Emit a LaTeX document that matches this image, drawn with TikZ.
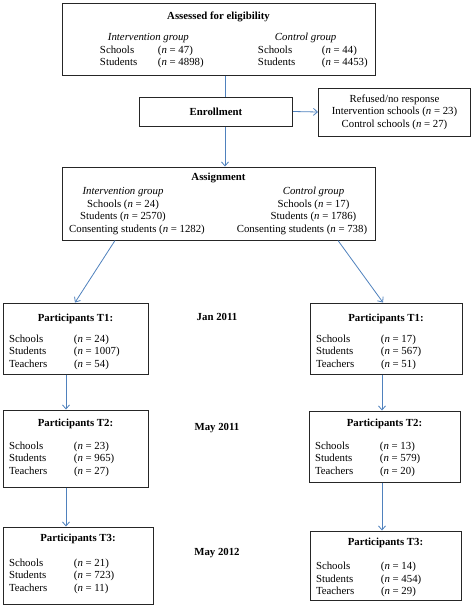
\documentclass[tikz,border=0pt]{standalone}
\usepackage{fontspec}
\setmainfont{Liberation Serif}
\usepackage{array}
\usetikzlibrary{arrows.meta}
\definecolor{arrowblue}{HTML}{4F81BD}

\begin{document}
\begin{tikzpicture}[x=1pt, y=-1pt,
    font=\fontsize{10.8}{12.5}\selectfont,
    box/.style={draw=black!85, line width=1pt, inner sep=0pt},
    link/.style={draw=arrowblue, line width=0.8pt},
    arr/.style={link, -{Straight Barb[length=4pt,width=7pt]}}]
      \useasboundingbox (0,0) rectangle (472,606);

      \node[box, minimum width=313pt, minimum height=72pt] (assess) at (218.5,39) {%
        \begin{tabular}{@{\hspace{38pt}}p{58pt}@{}p{100pt}@{}p{64pt}@{}p{53pt}@{}}
          \multicolumn{4}{c}{\textbf{Assessed for eligibility}}\\[9pt]
          \multicolumn{2}{@{\hspace{46pt}}l}{\textit{Intervention group}} & \multicolumn{2}{@{\hspace{17pt}}l@{}}{\textit{Control group}}\\
          Schools & (\textit{n} = 47) & Schools & (\textit{n} = 44)\\
          Students & (\textit{n} = 4898) & Students & (\textit{n} = 4453)\\[-2pt]
        \end{tabular}};

      \node[box, minimum width=153pt, minimum height=29pt] (enroll) at (216,111.5) {\textbf{Enrollment}};
      \node[box, minimum width=152pt, minimum height=48pt, align=center] (refused) at (394.5,112)
        {Refused/no response\\Intervention schools (\textit{n} = 23)\\Control schools (\textit{n} = 27)};

      \node[box, minimum width=313pt, minimum height=73pt] (assign) at (218.5,203.5) {%
        \begin{tabular}{@{}w{c}{122pt}@{\hspace{68pt}}w{c}{123pt}@{}}
          \multicolumn{2}{c}{\textbf{Assignment}}\\[1.5pt]
          \textit{Intervention group} & \textit{Control group}\\
          Schools (\textit{n} = 24) & Schools (\textit{n} = 17)\\
          Students (\textit{n} = 2570) & Students (\textit{n} = 1786)\\
          \hspace{28pt}Consenting students (\textit{n} = 1282) & Consenting students (\textit{n} = 738)\hspace{23pt}\mbox{}\\[-1pt]
        \end{tabular}};

      \node[box, minimum width=145pt, minimum height=71pt] (p1l) at (75.5,338.5) {%
        \begin{tabular}{@{\hspace{6pt}}p{65pt}@{}p{74pt}@{}}
          \multicolumn{2}{c}{\textbf{Participants T1:}}\\[8pt]
          Schools & (\textit{n} = 24)\\
          Students & (\textit{n} = 1007)\\
          Teachers & (\textit{n} = 54)\\[-7pt]
        \end{tabular}};
      \node[box, minimum width=152pt, minimum height=71pt] (p1r) at (386,338.5) {%
        \begin{tabular}{@{\hspace{6pt}}p{65pt}@{}p{81pt}@{}}
          \multicolumn{2}{c}{\textbf{Participants T1:}}\\[8pt]
          Schools & (\textit{n} = 17)\\
          Students & (\textit{n} = 567)\\
          Teachers & (\textit{n} = 51)\\[-7pt]
        \end{tabular}};

      \node[box, minimum width=145pt, minimum height=77pt] (p2l) at (75.5,448.5) {%
        \begin{tabular}{@{\hspace{6pt}}p{65pt}@{}p{74pt}@{}}
          \multicolumn{2}{c}{\textbf{Participants T2:}}\\[10pt]
          Schools & (\textit{n} = 23)\\
          Students & (\textit{n} = 965)\\
          Teachers & (\textit{n} = 27)\\[1pt]
        \end{tabular}};
      \node[box, minimum width=151pt, minimum height=71pt] (p2r) at (384.5,446.5) {%
        \begin{tabular}{@{\hspace{6pt}}p{65pt}@{}p{80pt}@{}}
          \multicolumn{2}{c}{\textbf{Participants T2:}}\\[10pt]
          Schools & (\textit{n} = 13)\\
          Students & (\textit{n} = 579)\\
          Teachers & (\textit{n} = 20)\\[-3pt]
        \end{tabular}};

      \node[box, minimum width=150pt, minimum height=77pt] (p3l) at (78,565.5) {%
        \begin{tabular}{@{\hspace{6pt}}p{65pt}@{}p{79pt}@{}}
          \multicolumn{2}{c}{\textbf{Participants T3:}}\\[12pt]
          Schools & (\textit{n} = 21)\\
          Students & (\textit{n} = 723)\\
          Teachers & (\textit{n} = 11)\\[3pt]
        \end{tabular}};
      \node[box, minimum width=151pt, minimum height=69pt] (p3r) at (385.5,565.5) {%
        \begin{tabular}{@{\hspace{6pt}}p{65pt}@{}p{80pt}@{}}
          \multicolumn{2}{c}{\textbf{Participants T3:}}\\[12pt]
          Schools & (\textit{n} = 14)\\
          Students & (\textit{n} = 454)\\
          Teachers & (\textit{n} = 29)\\[-4pt]
        \end{tabular}};

      \node (jan11) at (217,317) {\textbf{Jan 2011}};
      \node (may11) at (217,428) {\textbf{May 2011}};
      \node (may12) at (217,553) {\textbf{May 2012}};

      \coordinate (midline) at (225,0);
      \coordinate (leftline) at (66,0);
      \coordinate (rightline) at (382,0);

      \draw[link] (assess.south -| midline) -- (enroll.north -| midline);
      \draw[arr] (enroll.south -| midline) -- (assign.north -| midline);
      \draw[arr] (enroll.east) -- (refused.west);

      \draw[arr] ([xshift=-103.5pt]assign.south) -- ([xshift=-0.5pt]p1l.north);
      \draw[arr] ([xshift=119.5pt]assign.south) -- ([xshift=-3pt]p1r.north);

      \draw[arr] (p1l.south -| leftline) -- (p2l.north -| leftline);
      \draw[arr] (p2l.south -| leftline) -- (p3l.north -| leftline);
      \draw[arr] (p1r.south -| rightline) -- (p2r.north -| rightline);
      \draw[arr] (p2r.south -| rightline) -- (p3r.north -| rightline);

    \end{tikzpicture}
\end{document}
